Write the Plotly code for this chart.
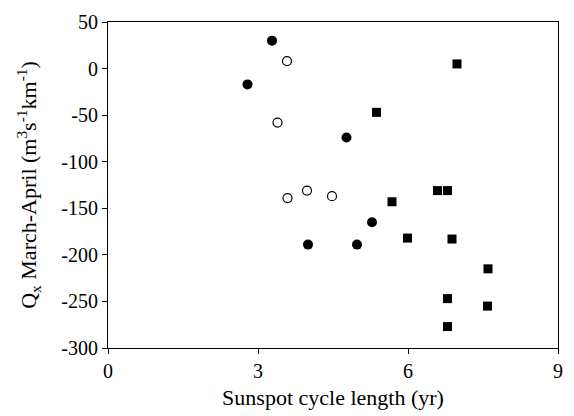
import plotly.graph_objects as go

filled_x = [2.79, 3.28, 4.77, 5.28, 4.00, 4.98]
filled_y = [-17, 30, -74, -165, -189, -189]

open_x = [3.58, 3.39, 3.59, 3.98, 4.48]
open_y = [8, -58, -139, -131, -137]

square_x = [6.98, 5.37, 6.59, 6.79, 5.68, 5.99, 6.88, 7.60, 6.79, 7.59, 6.79]
square_y = [5, -47, -131, -131, -143, -182, -183, -215, -247, -255, -277]

x_ticks = [0, 3, 6, 9]
y_ticks = [50, 0, -50, -100, -150, -200, -250, -300]
y_tick_labels = ["50", "0", "-50", "-100", "-150", "-200", "-250", "-300"]

fig = go.Figure()
fig.add_trace(go.Scatter(x=filled_x, y=filled_y, mode="markers",
                         marker=dict(symbol="circle", size=10, color="black",
                                     line=dict(width=0))))
fig.add_trace(go.Scatter(x=open_x, y=open_y, mode="markers",
                         marker=dict(symbol="circle-open", size=9, color="black",
                                     line=dict(width=1.2, color="black"))))
fig.add_trace(go.Scatter(x=square_x, y=square_y, mode="markers",
                         marker=dict(symbol="square", size=9, color="black",
                                     line=dict(width=0))))

font_family = "Liberation Serif"
fig.update_layout(
    width=574, height=416,
    margin=dict(l=108, r=11, t=17, b=68),
    paper_bgcolor="white", plot_bgcolor="white",
    showlegend=False,
    font=dict(family=font_family, size=20, color="black"),
)
fig.update_xaxes(range=[0, 9], tickvals=x_ticks, ticks="outside", ticklen=5,
                 tickcolor="black", showline=True, linecolor="black", linewidth=1,
                 mirror=True, showgrid=False, zeroline=False,
                 tickfont=dict(family=font_family, size=20),
                 title=dict(text="Sunspot cycle length (yr)", standoff=8,
                            font=dict(family=font_family, size=22)))
fig.update_yaxes(range=[-300, 50], tickvals=y_ticks, ticktext=y_tick_labels,
                 ticks="outside", ticklen=5,
                 tickcolor="black", showline=True, linecolor="black", linewidth=1,
                 mirror=True, showgrid=False, zeroline=False,
                 tickfont=dict(family=font_family, size=20),
                 title=dict(text="Q<sub>x</sub> March-April (m<sup>3</sup>s<sup>-1</sup>km<sup>-1</sup>)",
                            standoff=18, font=dict(family=font_family, size=22)))

fig.write_html("out.html",
               config={"displayModeBar": False},
               post_script="document.body.style.margin='0';document.body.style.overflow='hidden';")
